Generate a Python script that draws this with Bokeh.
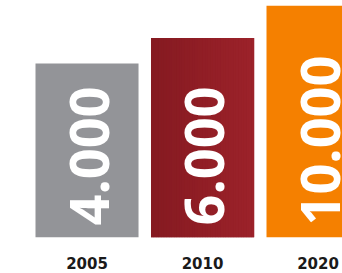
import numpy as np
from bokeh.plotting import figure
from bokeh.models import Range1d, FixedTicker, ColumnDataSource
from bokeh.core.properties import value
from bokeh.embed import file_html
from bokeh.resources import INLINE

# ---- data ----
years = ["2005", "2010", "2020"]
values = [4000, 6000, 10000]
labels = ["4.000", "6.000", "10.000"]
colors = ["#939498", "#8f1d25", "#f58000"]

xs = list(range(len(years)))
bar_w = 0.892
y_start, y_end = 254, 10864

p = figure(width=342, height=273, output_backend="svg", toolbar_location=None,
           y_axis_type="log",
           x_range=Range1d(-0.749, 2.212), y_range=Range1d(y_start, y_end),
           min_border_left=0, min_border_right=0, min_border_top=0, min_border_bottom=36)
p.outline_line_color = None
p.xgrid.visible = False
p.ygrid.visible = False
p.yaxis.visible = False
p.background_fill_color = "white"

# plain bars (gray, orange)
src = ColumnDataSource(dict(x=xs, top=values, color=colors, label=labels,
                            base=[y_start] * len(xs)))
p.vbar(x="x", top="top", bottom=y_start, width=bar_w, color="color", source=src, line_color=None)

# horizontal gradient for the 2010 bar (drawn as thin strips over it)
i = years.index("2010")
n = 40
c0 = np.array([0x85, 0x1a, 0x21])
c1 = np.array([0x9c, 0x22, 0x2a])
left0 = xs[i] - bar_w / 2
edges = np.linspace(left0, left0 + bar_w, n + 1)
cols = []
for k in range(n):
    t = k / (n - 1)
    c = (c0 * (1 - t) + c1 * t).round().astype(int)
    cols.append("#%02x%02x%02x" % tuple(c))
p.quad(left=edges[:-1], right=edges[1:] + 0.002, bottom=y_start, top=values[i],
       color=cols, line_color=None)

# rotated value labels
p.text(x="x", y="base", text="label", source=src, angle=np.pi / 2,
       text_align="left", text_baseline="alphabetic",
       x_offset=2, y_offset=-12,
       text_color="white", text_font=value("Open Sans"), text_font_style="bold",
       text_font_size="54px")

ax = p.xaxis[0]
ax.ticker = FixedTicker(ticks=xs)
ax.major_label_overrides = {x: y for x, y in zip(xs, years)}
ax.axis_line_color = None
ax.major_tick_line_color = None
ax.minor_tick_line_color = None
ax.major_tick_out = 0
ax.major_tick_in = 0
ax.major_label_standoff = 19
ax.major_label_text_font = "DejaVu Sans"
ax.major_label_text_font_style = "bold"
ax.major_label_text_font_size = "15px"
ax.major_label_text_color = "#1a1a1a"

open("out.html", "w").write(file_html(p, INLINE))
